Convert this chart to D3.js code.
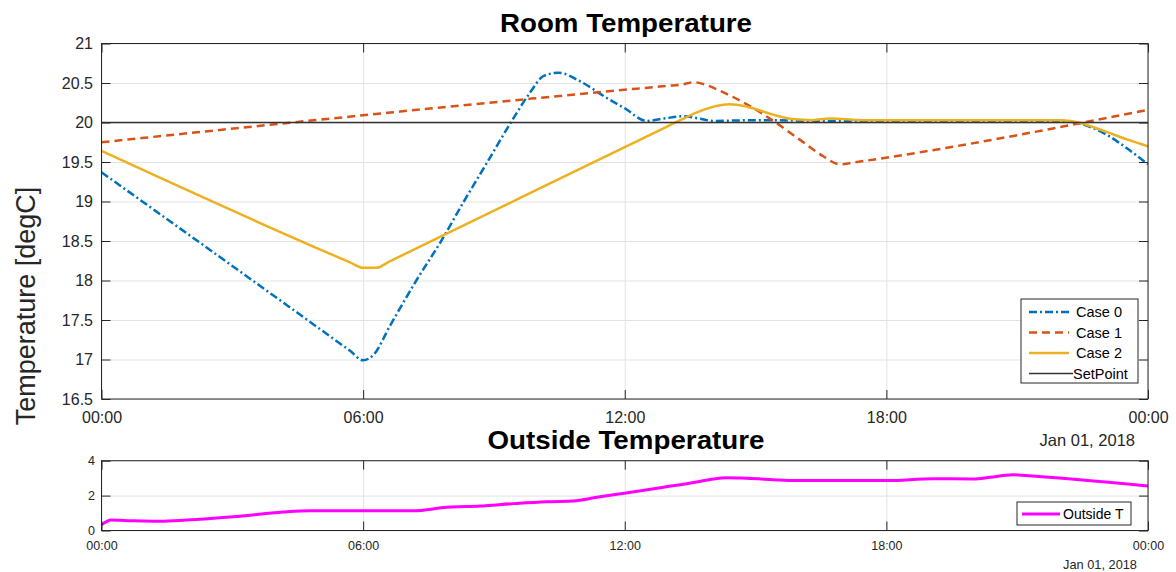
<!DOCTYPE html>
<html>
<head>
<meta charset="utf-8">
<script src="https://cdn.jsdelivr.net/npm/d3@7"></script>
<style>
  body { margin: 0; background: #fff; }
  text { font-family: "Liberation Sans", Arial, sans-serif; }
</style>
</head>
<body>
<div id="chart"></div>
<script>
// ---- data (hours after midnight, degC) ----
const hourTicks = [0, 6, 12, 18, 24]
const roomTicks = [16.5, 17, 17.5, 18, 18.5, 19, 19.5, 20, 20.5, 21]
const outsideTicks = [0, 2, 4]

const case0Hours = [0, 5.7, 6.0, 6.24, 6.62, 7.22, 7.79, 8.31, 8.85, 9.41, 9.83, 10.14, 10.48, 10.98, 11.59, 12.0, 12.5, 12.9, 13.35, 13.7, 14.03, 15.0, 16.6, 18, 20, 22.0, 22.4, 23.1, 23.5, 24]
const case0Temp  = [19.37, 17.11, 16.99, 17.06, 17.43, 18.0, 18.5, 19.0, 19.5, 20.02, 20.38, 20.59, 20.63, 20.52, 20.31, 20.18, 20.02, 20.05, 20.08, 20.05, 20.02, 20.03, 20.02, 20.02, 20.02, 20.02, 19.99, 19.83, 19.68, 19.47]

const case1Hours = [0, 13.0, 13.3, 13.58, 13.9, 14.19, 14.8, 15.41, 16.02, 16.56, 16.94, 17.2, 24]
const case1Temp  = [19.75, 20.465, 20.48, 20.51, 20.47, 20.40, 20.23, 20.02, 19.78, 19.57, 19.47, 19.49, 20.16]

const case2Hours = [0, 5.7, 6.0, 6.3, 6.6, 12.9, 13.2, 13.8, 14.1, 14.4, 14.8, 15.4, 15.9, 16.3, 16.7, 17.1, 17.5, 22.0, 22.4, 23.0, 23.5, 24]
const case2Temp  = [19.64, 18.23, 18.16, 18.16, 18.24, 19.93, 20.01, 20.16, 20.21, 20.23, 20.2, 20.1, 20.04, 20.03, 20.05, 20.04, 20.03, 20.03, 20.0, 19.89, 19.79, 19.7]

const setPointHours = [0, 24]
const setPointTemp  = [20, 20]

const outsideHours = [0, 0.22, 0.7, 1.34, 1.95, 3.02, 4.17, 4.78, 6.39, 7.15, 7.92, 8.68, 9.45, 10.21, 10.82, 11.36, 12.03, 12.89, 13.65, 14.03, 14.34, 14.8, 15.56, 15.86, 18.0, 19.07, 20.0, 20.38, 20.9, 21.1, 24]
const outsideTemp  = [0.32, 0.6, 0.56, 0.53, 0.6, 0.79, 1.06, 1.13, 1.13, 1.13, 1.33, 1.40, 1.54, 1.65, 1.69, 1.90, 2.15, 2.48, 2.78, 2.95, 3.03, 2.99, 2.89, 2.86, 2.86, 2.97, 2.95, 3.05, 3.2, 3.17, 2.55]

const day0 = new Date(2018, 0, 1, 0, 0)
const toDate = h => new Date(day0.getTime() + h * 3600 * 1000)
const zip = (hs, vs) => hs.map((h, i) => ({ t: toDate(h), v: vs[i] }))

const axisColor = '#262626'
const gridColor = '#e3e3e3'

const svg = d3.select('#chart')
  .append('svg')
  .attr('width', 1176)
  .attr('height', 572)

// draws box, grid and inside ticks for one panel
function panel(box, yDomain, yTicks, fontSize, xPad, yPad, id) {
  const width = box.right - box.left
  const height = box.bottom - box.top
  const g = svg.append('g').attr('transform', `translate(${box.left}, ${box.top})`)

  const x = d3.scaleTime().domain([toDate(0), toDate(24)]).range([0, width])
  const y = d3.scaleLinear().domain(yDomain).range([height, 0])
  const xTicks = hourTicks.map(toDate)

  // grid
  g.append('g')
    .attr('transform', `translate(0, ${height})`)
    .call(d3.axisBottom(x).tickValues(xTicks).tickSize(-height).tickFormat(''))
    .call(s => s.select('.domain').remove())
    .selectAll('line').attr('stroke', gridColor)
  g.append('g')
    .call(d3.axisLeft(y).tickValues(yTicks).tickSize(-width).tickFormat(''))
    .call(s => s.select('.domain').remove())
    .selectAll('line').attr('stroke', gridColor)

  g.append('clipPath').attr('id', id)
    .append('rect').attr('width', width).attr('height', height)

  const plot = g.append('g').attr('clip-path', `url(#${id})`)

  // axes with inward ticks
  const xAxis = g.append('g')
    .attr('transform', `translate(0, ${height})`)
    .call(d3.axisBottom(x).tickValues(xTicks).tickSizeInner(-9).tickSizeOuter(0)
      .tickPadding(xPad).tickFormat(d3.timeFormat('%H:%M')))
  const yAxis = g.append('g')
    .call(d3.axisLeft(y).tickValues(yTicks).tickSizeInner(-9).tickSizeOuter(0)
      .tickPadding(yPad).tickFormat(d3.format('')))
  g.append('g')
    .call(d3.axisTop(x).tickValues(xTicks).tickSizeInner(-9).tickSizeOuter(0).tickFormat(''))
    .call(s => s.select('.domain').remove())
  g.append('g')
    .attr('transform', `translate(${width}, 0)`)
    .call(d3.axisRight(y).tickValues(yTicks).tickSizeInner(-9).tickSizeOuter(0).tickFormat(''))
    .call(s => s.select('.domain').remove())

  ;[xAxis, yAxis].forEach(a => {
    a.select('.domain').remove()
    a.selectAll('text')
      .style('font-size', fontSize + 'px')
      .style('font-family', '"Liberation Sans", Arial, sans-serif')
      .attr('fill', axisColor)
  })
  g.selectAll('.tick line').filter(function() {
    return !d3.select(this).attr('stroke') || d3.select(this).attr('stroke') === 'currentColor'
  }).attr('stroke', axisColor)

  g.append('rect')
    .attr('width', width).attr('height', height)
    .attr('fill', 'none').attr('stroke', axisColor).attr('stroke-width', 1)

  return { x, y, plot, g }
}

/* Room temperature */
const room = panel({ left: 101.5, right: 1148, top: 43.5, bottom: 399 },
  [16.5, 21], roomTicks, 16, 12.6, 8.5, 'clipRoom')

const roomLine = d3.line()
  .x(d => room.x(d.t))
  .y(d => room.y(d.v))
  .curve(d3.curveMonotoneX)

const series = [
  { name: 'Case 0', data: zip(case0Hours, case0Temp), color: '#0072BD', width: 2.5, dash: '8,3,2,3' },
  { name: 'Case 1', data: zip(case1Hours, case1Temp), color: '#D95319', width: 2.5, dash: '8,5' },
  { name: 'Case 2', data: zip(case2Hours, case2Temp), color: '#EDB120', width: 2.5, dash: null },
  { name: 'SetPoint', data: zip(setPointHours, setPointTemp), color: '#333333', width: 1.6, dash: null }
]

series.forEach(s => {
  room.plot.append('path')
    .datum(s.data)
    .attr('fill', 'none')
    .attr('stroke', s.color)
    .attr('stroke-width', s.width)
    .attr('stroke-dasharray', s.dash)
    .attr('d', roomLine)
})

// legend
const legend = svg.append('g').attr('transform', 'translate(1021, 299)')
legend.append('rect')
  .attr('width', 117).attr('height', 84)
  .attr('fill', '#fff').attr('stroke', axisColor).attr('stroke-width', 1)
series.forEach((s, i) => {
  const cy = 13 + i * 20.5
  const isSet = s.name === 'SetPoint'
  legend.append('line')
    .attr('x1', 8).attr('x2', isSet ? 52 : 48)
    .attr('y1', cy).attr('y2', cy)
    .attr('stroke', s.color)
    .attr('stroke-width', isSet ? 1.3 : s.width)
    .attr('stroke-dasharray', s.dash)
  legend.append('text')
    .attr('x', isSet ? 52 : 55).attr('y', cy + 5)
    .style('font-size', '14.5px')
    .attr('fill', '#000')
    .text(s.name)
})

svg.append('text')
  .attr('x', 626).attr('y', 32)
  .attr('text-anchor', 'middle')
  .style('font-size', '25px').style('font-weight', 'bold')
  .attr('textLength', 252).attr('lengthAdjust', 'spacingAndGlyphs')
  .text('Room Temperature')

svg.append('text')
  .attr('x', 1135).attr('y', 446)
  .attr('text-anchor', 'end')
  .style('font-size', '16.5px').attr('fill', axisColor)
  .text('Jan 01, 2018')

svg.append('text')
  .attr('transform', 'translate(35, 306) rotate(-90)')
  .attr('text-anchor', 'middle')
  .style('font-size', '27px').attr('fill', axisColor)
  .text('Temperature [degC]')

/* Outside temperature */
const out = panel({ left: 101.5, right: 1148, top: 460.7, bottom: 530.5 },
  [0, 4], outsideTicks, 12.5, 10.6, 6.5, 'clipOut')

const outLine = d3.line()
  .x(d => out.x(d.t))
  .y(d => out.y(d.v))
  .curve(d3.curveMonotoneX)

out.plot.append('path')
  .datum(zip(outsideHours, outsideTemp))
  .attr('fill', 'none')
  .attr('stroke', '#FF00FF')
  .attr('stroke-width', 3)
  .attr('d', outLine)

const legend2 = svg.append('g').attr('transform', 'translate(1017, 502)')
legend2.append('rect')
  .attr('width', 114).attr('height', 23)
  .attr('fill', '#fff').attr('stroke', axisColor).attr('stroke-width', 1)
legend2.append('line')
  .attr('x1', 5).attr('x2', 43).attr('y1', 12).attr('y2', 12)
  .attr('stroke', '#FF00FF').attr('stroke-width', 3)
legend2.append('text')
  .attr('x', 46).attr('y', 17)
  .style('font-size', '14px').attr('fill', '#000')
  .text('Outside T')

svg.append('text')
  .attr('x', 626).attr('y', 449)
  .attr('text-anchor', 'middle')
  .style('font-size', '25px').style('font-weight', 'bold')
  .attr('textLength', 277).attr('lengthAdjust', 'spacingAndGlyphs')
  .text('Outside Temperature')

svg.append('text')
  .attr('x', 1137).attr('y', 569)
  .attr('text-anchor', 'end')
  .style('font-size', '12.8px').attr('fill', axisColor)
  .text('Jan 01, 2018')
</script>
</body>
</html>
